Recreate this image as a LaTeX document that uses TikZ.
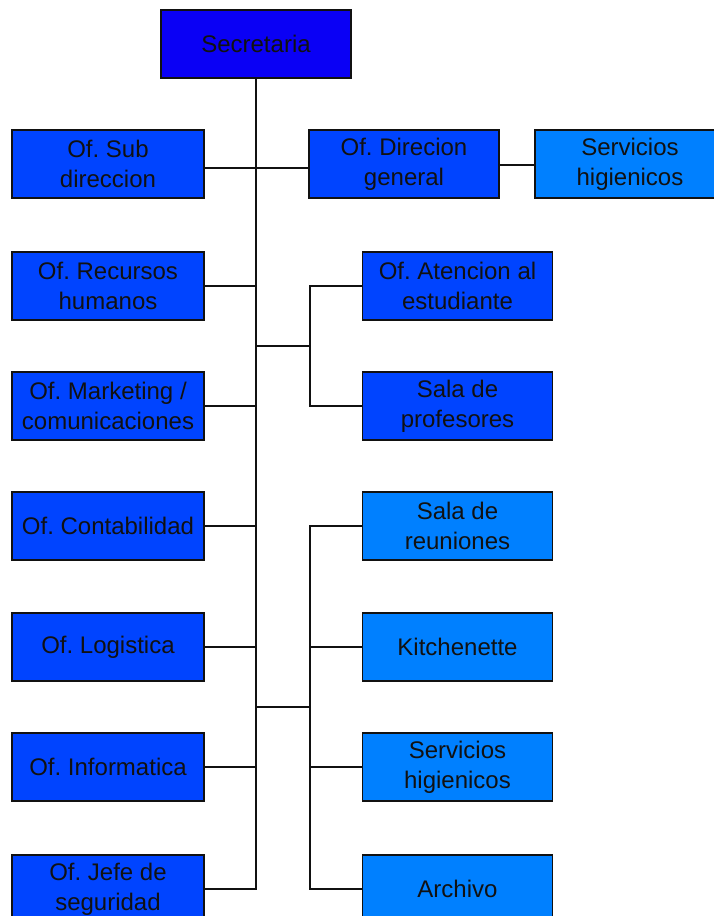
\documentclass[tikz,border=0pt]{standalone}
\usepackage{fontspec}
\setmainfont{Liberation Sans}
\frenchspacing
\usetikzlibrary{positioning, calc}
\definecolor{ocTop}{HTML}{0A00F5}
\definecolor{ocMid}{HTML}{0044FF}
\definecolor{ocLight}{HTML}{0080FF}
\definecolor{ocInk}{HTML}{111111}
\tikzset{
  unit/.style ={draw=ocInk, line width=1.4pt, minimum width=190pt, minimum height=68pt, inner sep=0pt,
                align=center, font=\fontsize{24}{30}\selectfont, text=ocInk},
  top/.style  ={unit, fill=ocTop},
  office/.style={unit, fill=ocMid},
  room/.style ={unit, fill=ocLight},
  link/.style ={line width=1.4pt, ocInk},
}

\begin{document}
\begin{tikzpicture}[x=1pt, y=-1pt]
\useasboundingbox (0,0) rectangle (713,916);
\def\lx{108}    % left column x
\def\rx{457.5}  % right column x

% head
\node[top] (sec) at (256,44) {Secretaria};

% ---- left column ----
\node[office, minimum width=192pt] (l1) at (\lx,164) {Of. Sub\\direccion};
\node[office, minimum width=192pt] (l2) at (\lx,286) {Of. Recursos\\humanos};
\node[office, minimum width=192pt] (l3) at (\lx,406) {Of. Marketing /\\comunicaciones};
\node[office, minimum width=192pt] (l4) at (\lx,526) {Of. Contabilidad};
\node[office, minimum width=192pt] (l5) at (\lx,647) {Of. Logistica};
\node[office, minimum width=192pt] (l6) at (\lx,767) {Of. Informatica};
\node[office, minimum width=192pt] (l7) at (\lx,889) {Of. Jefe de\\seguridad};

% ---- direction row ----
\node[office] (dg) at (404,164) {Of. Direcion\\general};
\node[room]   (sh) at (630,164) {Servicios\\higienicos};

% ---- right column ----
\node[office] (r1) at (\rx,286) {Of. Atencion al\\estudiante};
\node[office] (r2) at (\rx,406) {Sala de\\profesores};
\node[room]   (r3) at (\rx,526) {Sala de\\reuniones};
\node[room]   (r4) at (\rx,647) {Kitchenette};
\node[room]   (r5) at (\rx,767) {Servicios\\higienicos};
\node[room]   (r6) at (\rx,889) {Archivo};

% ---- connectors ----
\draw[link] (sec.south) |- (l7.east);
\draw[link] ([yshift=-4pt]l1.east) -- ([yshift=-4pt]dg.west);
\foreach \n in {l2,l3,l4,l5,l6}{\draw[link] (\n.east) -- (\n.east -| sec.south);}
\draw[link] ([yshift=-1pt]dg.east) -- ([yshift=-1pt]sh.west);

\coordinate (j1) at (310,346);
\coordinate (j2) at (310,707);
\draw[link] (j1 -| sec.south) -- (j1);
\draw[link] (r1.west) -| (j1) |- (r2.west);
\draw[link] (j2 -| sec.south) -- (j2);
\draw[link] (r3.west) -| (j2) |- (r6.west);
\foreach \n in {r4,r5}{\draw[link] (\n.west) -- (\n.west -| j2);}
\end{tikzpicture}
\end{document}
